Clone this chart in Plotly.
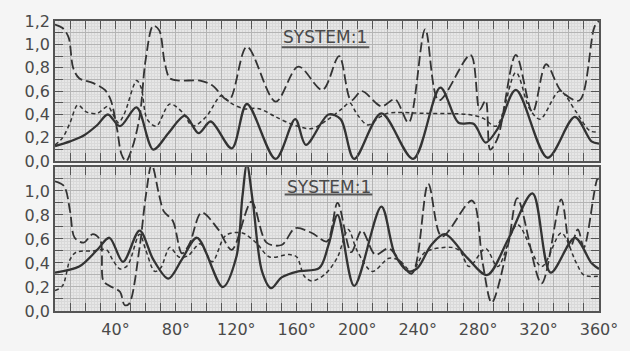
import plotly.graph_objects as go
from plotly.subplots import make_subplots

# ---------------- data ----------------
top_solid_deg = [0, 10, 19, 28, 35, 43, 54, 65, 75, 86, 95, 103, 117, 127, 146, 159, 166, 181, 189, 198, 216, 237, 255, 267, 277, 285, 293, 305, 326, 344, 355, 360]
top_solid_val = [0.13, 0.17, 0.22, 0.31, 0.40, 0.30, 0.46, 0.10, 0.24, 0.39, 0.24, 0.34, 0.11, 0.49, 0.02, 0.36, 0.14, 0.40, 0.36, 0.02, 0.41, 0.02, 0.63, 0.33, 0.32, 0.16, 0.28, 0.61, 0.03, 0.38, 0.17, 0.15]

top_long_deg = [0, 5, 9, 12, 16, 25, 33, 37, 41, 44, 47, 51, 56, 60, 65, 69, 72.5, 76, 82, 96, 104, 115, 127, 146, 161, 177, 188, 196, 203, 216, 225, 234, 245, 254, 275, 281, 285, 288, 293, 305, 316, 325, 335, 347, 357, 360]
top_long_val = [1.17, 1.14, 1.06, 0.80, 0.71, 0.67, 0.61, 0.52, 0.28, 0.06, 0.00, 0.11, 0.38, 0.87, 1.16, 1.12, 0.85, 0.71, 0.69, 0.69, 0.65, 0.52, 0.98, 0.51, 0.81, 0.61, 0.90, 0.52, 0.60, 0.47, 0.53, 0.33, 1.13, 0.52, 0.91, 0.44, 0.52, 0.10, 0.20, 0.91, 0.42, 0.83, 0.60, 0.52, 1.15, 1.20]

top_short_deg = [0, 5, 10, 15, 21, 28, 35, 38, 42, 46, 54, 57, 61, 67, 76, 85, 91, 100, 110, 116, 125, 135, 146, 158, 170, 181, 190, 195, 200, 207, 214, 220, 245, 273, 283, 292, 305, 314, 321, 334, 345, 354, 360]
top_short_val = [0.14, 0.20, 0.33, 0.48, 0.42, 0.41, 0.47, 0.41, 0.33, 0.41, 0.69, 0.63, 0.36, 0.30, 0.49, 0.41, 0.30, 0.38, 0.56, 0.50, 0.45, 0.45, 0.38, 0.31, 0.28, 0.36, 0.45, 0.50, 0.40, 0.31, 0.37, 0.41, 0.41, 0.40, 0.37, 0.30, 0.76, 0.45, 0.36, 0.60, 0.42, 0.26, 0.25]

bot_solid_deg = [0, 16, 28, 36, 45, 56, 65, 75, 84, 94, 111, 120, 124, 127, 131, 137, 143, 150, 161, 175, 181, 187, 198, 216, 225, 234, 240, 249, 258, 273, 286, 300, 316, 328, 344, 355, 360]
bot_solid_val = [0.32, 0.37, 0.51, 0.61, 0.41, 0.67, 0.43, 0.27, 0.43, 0.61, 0.20, 0.45, 0.95, 1.22, 0.90, 0.33, 0.19, 0.28, 0.33, 0.36, 0.55, 0.80, 0.21, 0.87, 0.47, 0.33, 0.36, 0.55, 0.64, 0.44, 0.30, 0.60, 0.98, 0.32, 0.61, 0.40, 0.35]

bot_long_deg = [0, 6, 10, 13, 19, 25, 30, 32, 36, 43, 46, 49, 56, 60, 64, 69, 72, 78, 84, 89, 97, 108, 117, 130, 140, 150, 159, 170, 180, 187, 196, 203, 212, 221, 236, 247, 256, 276, 283, 289, 300, 306, 322, 335, 341, 346, 350, 359, 360]
bot_long_val = [1.08, 1.04, 0.83, 0.61, 0.57, 0.64, 0.59, 0.25, 0.21, 0.16, 0.05, 0.06, 0.53, 0.95, 1.22, 0.96, 0.83, 0.75, 0.48, 0.56, 0.82, 0.68, 0.51, 0.91, 0.57, 0.55, 0.69, 0.65, 0.58, 0.90, 0.49, 0.67, 0.47, 0.52, 0.31, 1.06, 0.62, 0.92, 0.40, 0.07, 0.56, 0.94, 0.23, 0.93, 0.53, 0.68, 0.53, 1.10, 1.10]

bot_short_deg = [0, 5, 10, 14, 25, 34, 38, 43, 48, 56, 60, 66, 70, 76, 82, 88, 96, 104, 113, 124, 133, 142, 155, 160, 165, 170, 179, 187, 194, 200, 210, 221, 228, 236, 245, 262, 268, 274, 285, 293, 306, 322, 335, 345, 350, 360]
bot_short_val = [0.17, 0.21, 0.43, 0.49, 0.50, 0.51, 0.43, 0.35, 0.38, 0.64, 0.51, 0.33, 0.36, 0.53, 0.45, 0.46, 0.56, 0.41, 0.63, 0.65, 0.57, 0.45, 0.47, 0.45, 0.29, 0.25, 0.31, 0.45, 0.68, 0.50, 0.33, 0.44, 0.42, 0.33, 0.49, 0.53, 0.50, 0.37, 0.52, 0.37, 0.72, 0.37, 0.65, 0.40, 0.30, 0.29]

panel_title = "SYSTEM:1"
x_ticks = list(range(0, 361, 10))
x_labels = [f"{v}°" if (v % 40 == 0 and v > 0) else "" for v in x_ticks]
y_ticks = [round(i * 0.1, 1) for i in range(13)]
y_labels_top = [f"{v:.1f}".replace(".", ",") if round(v * 10) % 2 == 0 else "" for v in y_ticks]
y_labels_bot = [lab if v < 1.15 else "" for lab, v in zip(y_labels_top, y_ticks)]

# ---------------- figure ----------------
INK = "#333333"
fig = make_subplots(rows=2, cols=1)

def add_set(row, sd, sv, ld, lv, dd, dv):
    fig.add_trace(go.Scatter(x=dd, y=dv, mode="lines", line=dict(color=INK, width=1.5, dash="4px,3px", shape="spline", smoothing=0.9), showlegend=False, hoverinfo="skip"), row=row, col=1)
    fig.add_trace(go.Scatter(x=ld, y=lv, mode="lines", line=dict(color=INK, width=1.8, dash="10px,4px", shape="spline", smoothing=0.9), showlegend=False, hoverinfo="skip"), row=row, col=1)
    fig.add_trace(go.Scatter(x=sd, y=sv, mode="lines", line=dict(color=INK, width=2.3, shape="spline", smoothing=0.9), showlegend=False, hoverinfo="skip"), row=row, col=1)

add_set(1, top_solid_deg, top_solid_val, top_long_deg, top_long_val, top_short_deg, top_short_val)
add_set(2, bot_solid_deg, bot_solid_val, bot_long_deg, bot_long_val, bot_short_deg, bot_short_val)

axis_common = dict(
    showline=True, linecolor="#555555", linewidth=1.5, mirror="ticks",
    ticks="inside", ticklen=8, tickwidth=1.3, tickcolor="#555555",
    showgrid=True, gridcolor="#b4b4b4", gridwidth=1, zeroline=False,
    tickfont=dict(family="DejaVu Sans", size=16, color="#4a4a4a"),
)
minor_x = dict(dtick=2, showgrid=True, gridcolor="#d9d9d9", gridwidth=1, ticks="")
minor_y = dict(dtick=0.025, showgrid=True, gridcolor="#d9d9d9", gridwidth=1, ticks="")

fig.update_xaxes(range=[0, 360], tickmode="array", tickvals=x_ticks, ticktext=x_labels, minor=minor_x, ticklabelstandoff=3, **axis_common)
fig.update_xaxes(showticklabels=False, row=1, col=1)
fig.update_yaxes(range=[0, 1.2], tickmode="array", tickvals=y_ticks, minor=minor_y, **axis_common)
fig.update_yaxes(ticktext=y_labels_top, row=1, col=1)
fig.update_yaxes(ticktext=y_labels_bot, row=2, col=1)

fig.update_layout(
    width=630, height=351,
    margin=dict(l=55, r=29, t=20, b=27),
    paper_bgcolor="#f5f5f5", plot_bgcolor="#e7e7e7",
    yaxis=dict(domain=[0.5164, 1.0]),
    yaxis2=dict(domain=[0.0, 0.4967]),
    xaxis=dict(domain=[0, 1]), xaxis2=dict(domain=[0, 1]),
)

for xr, yr, ty, uy in (("x", "y", 1.06, 0.975), ("x2", "y2", 1.035, 0.97)):
    fig.add_annotation(x=179 if xr == "x" else 181, y=ty, xref=xr, yref=yr, text=panel_title, showarrow=False,
                       font=dict(family="DejaVu Sans", size=17, color="#4a4a4a"), bgcolor="rgba(0,0,0,0)")
    x0 = 150 if xr == "x" else 152
    fig.add_shape(type="line", xref=xr, yref=yr, x0=x0, x1=x0 + 58, y0=uy, y1=uy, line=dict(color="#555555", width=2))

fig.write_html("out.html")
